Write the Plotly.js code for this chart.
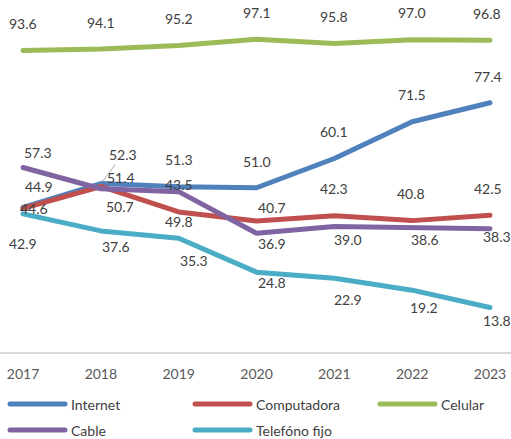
<!DOCTYPE html>
<html>
<head>
<meta charset="utf-8">
<script src="https://cdn.plot.ly/plotly-3.0.1.min.js"></script>
<style>
html,body{margin:0;padding:0;background:#fff;}
#chart{width:511px;height:439px;}
#chart .scatterlayer .js-line{stroke-linecap:round;stroke-linejoin:round;}
#chart .shapelayer path{stroke-linecap:round;}
</style>
</head>
<body>
<div id="chart"></div>
<script>
// ---- data ----
const years = ['2017', '2018', '2019', '2020', '2021', '2022', '2023'];
const internet = [44.9, 52.3, 51.3, 51.0, 60.1, 71.5, 77.4];
const computadora = [44.6, 51.4, 43.5, 40.7, 42.3, 40.8, 42.5];
const celular = [93.6, 94.1, 95.2, 97.1, 95.8, 97.0, 96.8];
const cable = [57.3, 50.7, 49.8, 36.9, 39.0, 38.6, 38.3];
const telefonoFijo = [42.9, 37.6, 35.3, 24.8, 22.9, 19.2, 13.8];
const seriesNames = ['Internet', 'Computadora', 'Celular', 'Cable', 'Telefóno fijo'];

// ---- styles ----
const colors = ['#4F81BD', '#C0504D', '#9BBB59', '#8064A2', '#4BACC6'];
const seriesData = [internet, computadora, celular, cable, telefonoFijo];
// label offsets in pixels [dx, dyUp]
const labelOffsets = [
  [[16, 21], null, [0, 27], [0, 26], [0, 27], [0, 27], [-2, 26]],
  [[11, 0], [20, 9], [0, 27], [15, 13], [0, 27], [-1, 27], [-2, 27]],
  [[0, 27], [0, 27], [0, 27], [0, 27], [0, 27], [0, 27], [-3, 27]],
  [[15, 15], [19, -18], [0, -30], [15, -10], [14, -13], [13, -12], [7, -8]],
  [[0, -30], [15, -16], [15, -22], [15, -10], [14, -21], [12, -17], [7, -13]]
];
const labelFont = {family: 'Lato, "Open Sans", sans-serif', size: 14, color: '#404040'};

const traces = seriesData.map((vals, s) => ({
  type: 'scatter', mode: 'lines', x: years, y: vals, name: seriesNames[s],
  line: {color: colors[s], width: 5}, showlegend: false, hoverinfo: 'x+y+name'
}));

const annotations = [];
seriesData.forEach((vals, s) => {
  vals.forEach((v, i) => {
    const off = labelOffsets[s][i];
    if (off === null) {
      annotations.push({x: i, y: v, xref: 'x', yref: 'y', text: v.toFixed(1),
        showarrow: true, arrowhead: 0, arrowwidth: 1, arrowcolor: '#a6a6a6', ax: 22, ay: -29,
        standoff: 2, font: labelFont});
    } else {
      annotations.push({x: i, y: v, xref: 'x', yref: 'y', text: v.toFixed(1),
        showarrow: false, xanchor: 'center', yanchor: 'middle', xshift: off[0], yshift: off[1],
        font: labelFont});
    }
  });
});

// manual legend
const W = 511, marginTop = 30, plotBottom = 352, plotH = plotBottom - marginTop;
const legendPos = [[10, 404], [195, 404], [380, 404], [10, 430], [195, 430]];
const shapes = [];
seriesNames.forEach((n, s) => {
  const [px, py] = legendPos[s];
  const yp = (plotBottom - py) / plotH;
  shapes.push({type: 'line', xref: 'paper', yref: 'paper', x0: px / W, x1: (px + 55) / W, y0: yp, y1: yp,
    line: {color: colors[s], width: 5}});
  annotations.push({xref: 'paper', yref: 'paper', x: (px + 59) / W, y: yp, xanchor: 'left', yanchor: 'middle',
    text: n, showarrow: false, font: {family: labelFont.family, size: 14, color: '#404040'}});
});

const layout = {
  width: 511, height: 439,
  margin: {l: 0, r: 0, t: marginTop, b: 439 - plotBottom},
  paper_bgcolor: '#ffffff', plot_bgcolor: '#ffffff',
  showlegend: false,
  xaxis: {type: 'category', range: [-0.296, 6.27], showgrid: false, zeroline: false,
    showline: true, linecolor: '#d9d9d9', linewidth: 2, ticks: '', ticklabelstandoff: 8,
    tickfont: {family: labelFont.family, size: 14, color: '#595959'}, fixedrange: true},
  yaxis: {range: [0, 100], showgrid: false, zeroline: false, showline: false,
    showticklabels: false, ticks: '', fixedrange: true},
  annotations: annotations,
  shapes: shapes
};

Plotly.newPlot('chart', traces, layout, {displayModeBar: false, staticPlot: true});
</script>
</body>
</html>
